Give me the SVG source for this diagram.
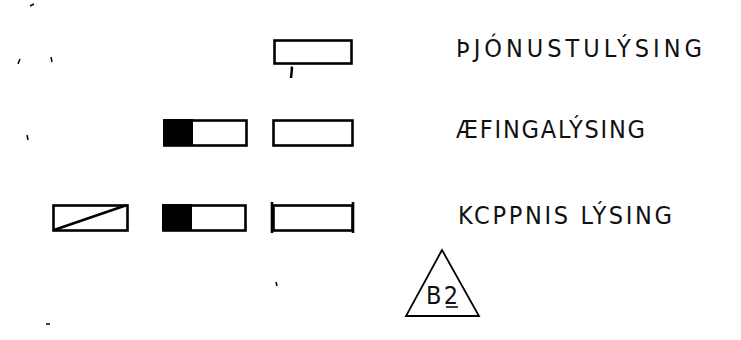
<svg xmlns="http://www.w3.org/2000/svg" width="741" height="340" viewBox="0 0 741 340">
<style>
.box{fill:none;stroke:#000;stroke-width:2.6}
.fill{fill:#000}
.lbl{font-family:"DejaVu Sans Condensed","Liberation Sans",sans-serif;font-size:25px;fill:#111}
.mark{stroke:#000;stroke-width:1.5;fill:none}
</style>
<rect width="741" height="340" fill="#fff"/>
<g id="noise">
<path class="mark" d="M30 6 L34 4"/>
<path class="mark" d="M18 64 L20 59"/>
<path class="mark" d="M51 57 L52 62"/>
<path class="mark" d="M27 135 L28 140"/>
<path class="mark" d="M46 324 L50 324"/>
<path class="mark" d="M276 282 L277 286"/>
</g>
<g id="row1">
<rect class="box" x="274.5" y="40.5" width="77" height="23"/>
<path d="M291 67 L292 68 L291 78" stroke="#000" stroke-width="2.5" fill="none"/>
</g>
<g id="row2">
<rect class="fill" x="163" y="119" width="30" height="27"/>
<rect class="box" x="164.5" y="120.5" width="82" height="25"/>
<rect class="box" x="273.5" y="120.5" width="79" height="25"/>
</g>
<g id="row3">
<rect class="box" x="53.5" y="205.5" width="74" height="25"/>
<path class="box" d="M54 230 L127 205"/>
<rect class="fill" x="162" y="204" width="30" height="27"/>
<rect class="box" x="163.5" y="205.5" width="82" height="25"/>
<rect class="box" x="273.5" y="205.5" width="79" height="25"/>
<path class="box" d="M272 202 L272 233 M353 202 L353 233"/>
</g>
<g id="labels">
<text class="lbl" x="456" y="57" textLength="246" lengthAdjust="spacing">ÞJÓNUSTULÝSING</text>
<text class="lbl" x="456" y="138" textLength="189" lengthAdjust="spacing">ÆFINGALÝSING</text>
<text class="lbl" x="458" y="224" textLength="214" lengthAdjust="spacing">KCPPNIS LÝSING</text>
</g>
<g id="b2">
<path d="M442 250 L406 316 L479 316 Z" fill="none" stroke="#000" stroke-width="1.8" stroke-linejoin="miter"/>
<text class="lbl" x="426" y="304" font-size="24" textLength="32" lengthAdjust="spacing">B2</text>
<path d="M446 307 L458 307" stroke="#000" stroke-width="1.5"/>
</g>
</svg>
